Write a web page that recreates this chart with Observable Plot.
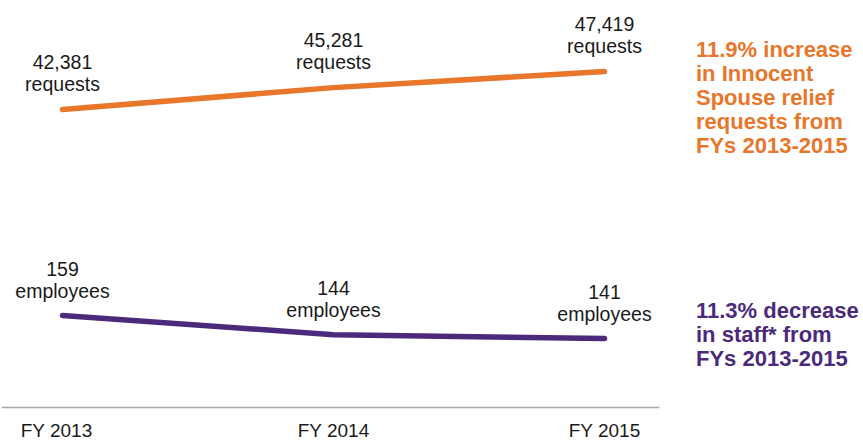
<!DOCTYPE html>
<html><head><meta charset="utf-8">
<script src="https://cdn.jsdelivr.net/npm/d3@7"></script>
<script src="https://cdn.jsdelivr.net/npm/@observablehq/plot@0.6"></script>
<style>
body{margin:0;background:#fff;}
#wrap{position:relative;width:863px;height:442px;font-family:"Liberation Sans",Arial,sans-serif;overflow:hidden;}
#wrap svg{position:absolute;left:0;top:0;}
.note{position:absolute;left:696px;font-weight:bold;font-size:22px;line-height:24px;white-space:nowrap;}
</style></head><body>
<div id="wrap"></div>
<script>
const years = ["FY 2013", "FY 2014", "FY 2015"];
const requests = [42381, 45281, 47419];
const employees = [159, 144, 141];
const requestNote = ["11.9% increase", "in Innocent", "Spouse relief", "requests from", "FYs 2013-2015"];
const staffNote = ["11.3% decrease", "in staff* from", "FYs 2013-2015"];

const ORANGE = "#E8762B";
const PURPLE = "#4B2A7B";
const INK = "#1a1a1a";
const fmt = d3.format(",");

const reqData = years.map((year, i) => ({year, value: requests[i]}));
const empData = years.map((year, i) => ({year, value: employees[i]}));

const common = {
  width: 863, height: 442,
  marginLeft: 61, marginRight: 259, marginTop: 20, marginBottom: 35,
  x: {type: "point", domain: years, padding: 0, axis: null},
  style: {fontFamily: "'Liberation Sans', Arial, sans-serif", background: "transparent", overflow: "visible"}
};

const plotA = Plot.plot({
  ...common,
  y: {domain: [42381, 47419], range: [109, 71], axis: null},
  marks: [
    Plot.line(reqData, {x: "year", y: "value", stroke: ORANGE, strokeWidth: 5.5, strokeLinecap: "round"}),
    Plot.text(reqData, {x: "year", y: "value", text: d => `${fmt(d.value)}\nrequests`,
      lineAnchor: "bottom", dy: -19, fontSize: 19.5, lineHeight: 22 / 19.5, fill: INK})
  ]
});

const plotB = Plot.plot({
  ...common,
  y: {domain: [141, 159], range: [338, 315], axis: null},
  marks: [
    Plot.frame({anchor: "bottom", stroke: "#a8a8a8", strokeWidth: 1.5, insetLeft: -59, insetRight: -54}),
    Plot.axisX([years[0]], {tickSize: 0, tickPadding: 16, fontSize: 19, dx: -6, label: null, fill: INK}),
    Plot.axisX(years.slice(1), {tickSize: 0, tickPadding: 16, fontSize: 19, label: null, fill: INK}),
    Plot.line(empData, {x: "year", y: "value", stroke: PURPLE, strokeWidth: 5.5, strokeLinecap: "round"}),
    Plot.text(empData, {x: "year", y: "value", text: d => `${fmt(d.value)}\nemployees`,
      lineAnchor: "bottom", dy: -18, fontSize: 19.5, lineHeight: 22 / 19.5, fill: INK})
  ]
});

const wrap = document.getElementById("wrap");
wrap.appendChild(plotA);
wrap.appendChild(plotB);

function addNote(lines, top, color) {
  const div = document.createElement("div");
  div.className = "note";
  div.style.top = top + "px";
  div.style.color = color;
  div.innerHTML = lines.map(l => l.replace(/&/g, "&amp;").replace(/</g, "&lt;")).join("<br>");
  wrap.appendChild(div);
}
addNote(requestNote, 38, ORANGE);
addNote(staffNote, 299, PURPLE);
</script>
</body></html>
